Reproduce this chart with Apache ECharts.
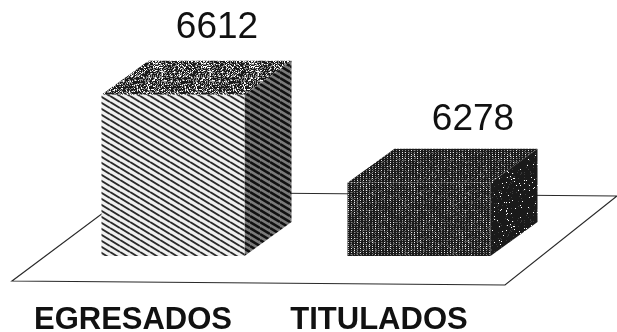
<!DOCTYPE html>
<html>
<head>
<meta charset="utf-8">
<style>
  html, body { margin: 0; padding: 0; background: #fff; }
  #main { width: 617px; height: 332px; }
</style>
<script src="https://cdn.jsdelivr.net/npm/echarts@6/dist/echarts.min.js"></script>
</head>
<body>
<div id="main"></div>
<script>
const categories = ['EGRESADOS', 'TITULADOS'];
const values = [6612, 6278];

// fake 3d look of the scanned chart
const depthX = 47, depthY = 34, barWidth = 143, barShift = 40;
const labelDx = [44, 54], labelDy = [67, 63];

function noiseTile(dark, seed, grid, mid) {
  const c = document.createElement('canvas');
  c.width = c.height = 48;
  const ctx = c.getContext('2d');
  let s = seed;
  for (let y = 0; y < 48; y++) {
    for (let x = 0; x < 48; x++) {
      s = (s * 1103515245 + 12345) & 0x7fffffff;
      let d = ((s >> 12) % 100) / 100 < dark;
      let col = d ? '#1a1a1a' : mid;
      // small light dots in a loose grid, like the scan screen
      if (grid && x % 3 === 0 && y % 2 === 0) col = ((s >> 8) % 3) === 0 ? '#e8e8e8' : '#8c8c8c';
      else if (!grid && !d && ((s >> 8) % 3) === 0) col = '#ffffff';
      ctx.fillStyle = col;
      ctx.fillRect(x, y, 1, 1);
    }
  }
  return c;
}

function stripeTile(bg, line, w) {
  const c = document.createElement('canvas');
  c.width = 10; c.height = 6;
  const ctx = c.getContext('2d');
  ctx.fillStyle = bg;
  ctx.fillRect(0, 0, 10, 6);
  ctx.strokeStyle = line;
  ctx.lineWidth = w;
  [-6, 0, 6].forEach(o => {
    ctx.beginPath();
    ctx.moveTo(0, o);
    ctx.lineTo(10, o + 6);
    ctx.stroke();
  });
  return c;
}

function fill(tile) {
  return { image: tile, repeat: 'repeat' };
}

const faces = [
  {
    front: fill(stripeTile('#f0f0f0', '#2a2a2a', 1.9)),
    top: fill(noiseTile(0.55, 7, false, '#8c8c8c')),
    side: fill(stripeTile('#7a7a7a', '#101010', 2.6))
  },
  {
    front: fill(noiseTile(0.85, 11, true, '#4a4a4a')),
    top: fill(noiseTile(0.85, 23, true, '#4a4a4a')),
    side: fill(noiseTile(0.93, 31, false, '#3a3a3a'))
  }
];

const chart = echarts.init(document.getElementById('main'));
chart.setOption({
  animation: false,
  backgroundColor: '#fff',
  grid: { left: 10, right: 115, top: 19, bottom: 76, outerBoundsMode: 'none' },
  graphic: [{
    type: 'polygon',
    z: 0,
    shape: { points: [[12, 281], [131, 192], [617, 196], [505, 285]] },
    style: { fill: '#fff', stroke: '#2a2a2a', lineWidth: 1.2 }
  }],
  xAxis: {
    type: 'category',
    data: categories,
    axisLine: { show: false },
    axisTick: { show: false },
    axisLabel: {
      interval: 0,
      hideOverlap: false,
      margin: 49,
      color: '#111',
      fontFamily: 'Liberation Sans',
      fontWeight: 'bold',
      fontSize: 31
    }
  },
  yAxis: { type: 'value', min: 6000, max: 6900, show: false, splitLine: { show: false } },
  series: [{
    type: 'custom',
    z: 5,
    data: values.map((v, i) => [i, v]),
    encode: { x: 0, y: 1 },
    renderItem(params, api) {
      const i = params.dataIndex;
      const top = api.coord([i, api.value(1)]);
      const base = api.coord([i, 6000]);
      const x0 = top[0] + barShift - barWidth / 2;
      const x1 = x0 + barWidth;
      const yt = top[1], yb = base[1];
      const f = faces[i];
      return {
        type: 'group',
        children: [
          { type: 'polygon', shape: { points: [[x0, yt], [x0 + depthX, yt - depthY], [x1 + depthX, yt - depthY], [x1, yt]] }, style: { fill: f.top } },
          { type: 'polygon', shape: { points: [[x1, yt], [x1 + depthX, yt - depthY], [x1 + depthX, yb - depthY], [x1, yb]] }, style: { fill: f.side } },
          { type: 'polygon', shape: { points: [[x0, yt], [x1, yt], [x1, yb], [x0, yb]] }, style: { fill: f.front } },
          {
            type: 'text',
            x: top[0] + barShift + labelDx[i],
            y: yt - labelDy[i],
            style: {
              text: String(api.value(1)),
              fill: '#111',
              font: '37px "Liberation Sans"',
              textAlign: 'center',
              textVerticalAlign: 'middle'
            }
          }
        ]
      };
    }
  }]
});
</script>
</body>
</html>
